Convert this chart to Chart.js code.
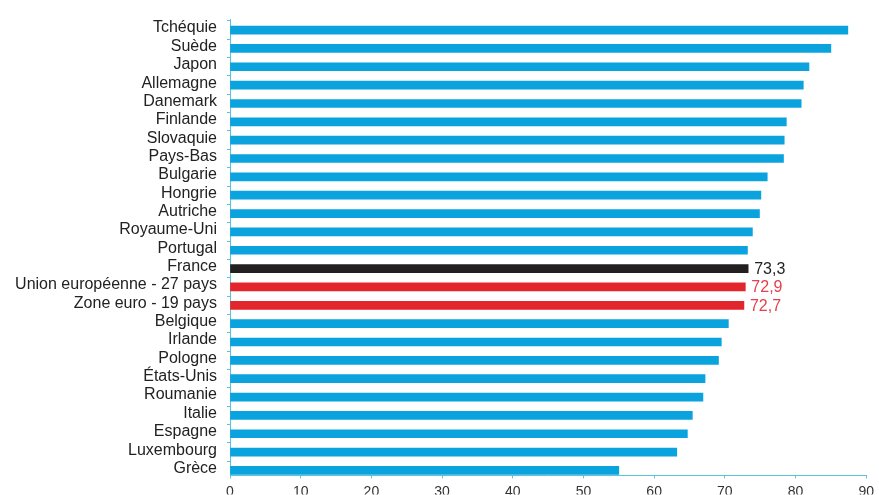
<!DOCTYPE html>
<html>
<head>
<meta charset="utf-8">
<script src="https://cdn.jsdelivr.net/npm/chart.js@4"></script>
<style>
  html, body { margin: 0; padding: 0; background: #fff; }
  #wrap { width: 879px; height: 495px; }
</style>
</head>
<body>
<div id="wrap"><canvas id="chart" width="879" height="495"></canvas></div>
<script>
const categories = [
  'Tchéquie', 'Suède', 'Japon', 'Allemagne', 'Danemark', 'Finlande', 'Slovaquie',
  'Pays-Bas', 'Bulgarie', 'Hongrie', 'Autriche', 'Royaume-Uni', 'Portugal', 'France',
  'Union européenne - 27 pays', 'Zone euro - 19 pays', 'Belgique', 'Irlande', 'Pologne',
  'États-Unis', 'Roumanie', 'Italie', 'Espagne', 'Luxembourg', 'Grèce'
];
const values = [
  87.4, 85.0, 81.9, 81.1, 80.8, 78.7, 78.4,
  78.3, 76.0, 75.1, 74.9, 73.9, 73.2, 73.3,
  72.9, 72.7, 70.5, 69.5, 69.1,
  67.2, 66.9, 65.4, 64.7, 63.2, 55.0
];
const xTicks = [0, 10, 20, 30, 40, 50, 60, 70, 80, 90];

// bars that get a special colour and a value label
const highlight = {
  'France': { bar: '#231f20', text: '#231f20' },
  'Union européenne - 27 pays': { bar: '#e3262b', text: '#e5414c' },
  'Zone euro - 19 pays': { bar: '#e3262b', text: '#e5414c' }
};
const blue = '#0ba3de';
const axisColor = '#5cc3dc';
const fontFamily = '"Liberation Sans", Arial, sans-serif';

const barColors = categories.map(c => highlight[c] ? highlight[c].bar : blue);

const valueLabels = {
  id: 'valueLabels',
  afterDatasetsDraw(chart) {
    const ctx = chart.ctx;
    const meta = chart.getDatasetMeta(0);
    ctx.save();
    ctx.font = '16px ' + fontFamily;
    ctx.textAlign = 'left';
    ctx.textBaseline = 'middle';
    categories.forEach((c, i) => {
      if (!highlight[c]) return;
      const bar = meta.data[i];
      ctx.fillStyle = highlight[c].text;
      ctx.fillText(values[i].toFixed(1).replace('.', ','), bar.x + 6, bar.y + 1);
    });
    ctx.restore();
  }
};

new Chart(document.getElementById('chart').getContext('2d'), {
  type: 'bar',
  data: {
    labels: categories,
    datasets: [{
      data: values,
      backgroundColor: barColors,
      borderWidth: 0,
      barThickness: 8,
      categoryPercentage: 1
    }]
  },
  plugins: [valueLabels],
  options: {
    indexAxis: 'y',
    responsive: false,
    animation: false,
    layout: { padding: { top: 17, right: 10, left: 0, bottom: 0 } },
    plugins: {
      legend: { display: false },
      tooltip: { enabled: false }
    },
    scales: {
      x: {
        min: 0,
        max: 90,
        afterBuildTicks: (scale) => { scale.ticks = xTicks.map(v => ({ value: v })); },
        afterFit: (scale) => { scale.height = 19; },
        grid: { drawOnChartArea: false, color: axisColor, tickLength: 3 },
        border: { color: axisColor, width: 1 },
        ticks: {
          color: '#333',
          padding: 5,
          font: { family: fontFamily, size: 14 },
          maxRotation: 0
        }
      },
      y: {
        offset: false,
        // more room above the first bar than below the last one, as in the source
        afterBuildTicks: (scale) => {
          scale._startValue = -0.57;
          scale._valueRange = 24.84;
        },
        afterFit: (scale) => { scale.width = 230; },
        grid: { drawOnChartArea: false, color: axisColor, tickLength: 3 },
        border: { color: axisColor, width: 1 },
        ticks: {
          color: '#222',
          padding: 10,
          labelOffset: -2,
          autoSkip: false,
          font: { family: fontFamily, size: 16 }
        }
      }
    }
  }
});
</script>
</body>
</html>
